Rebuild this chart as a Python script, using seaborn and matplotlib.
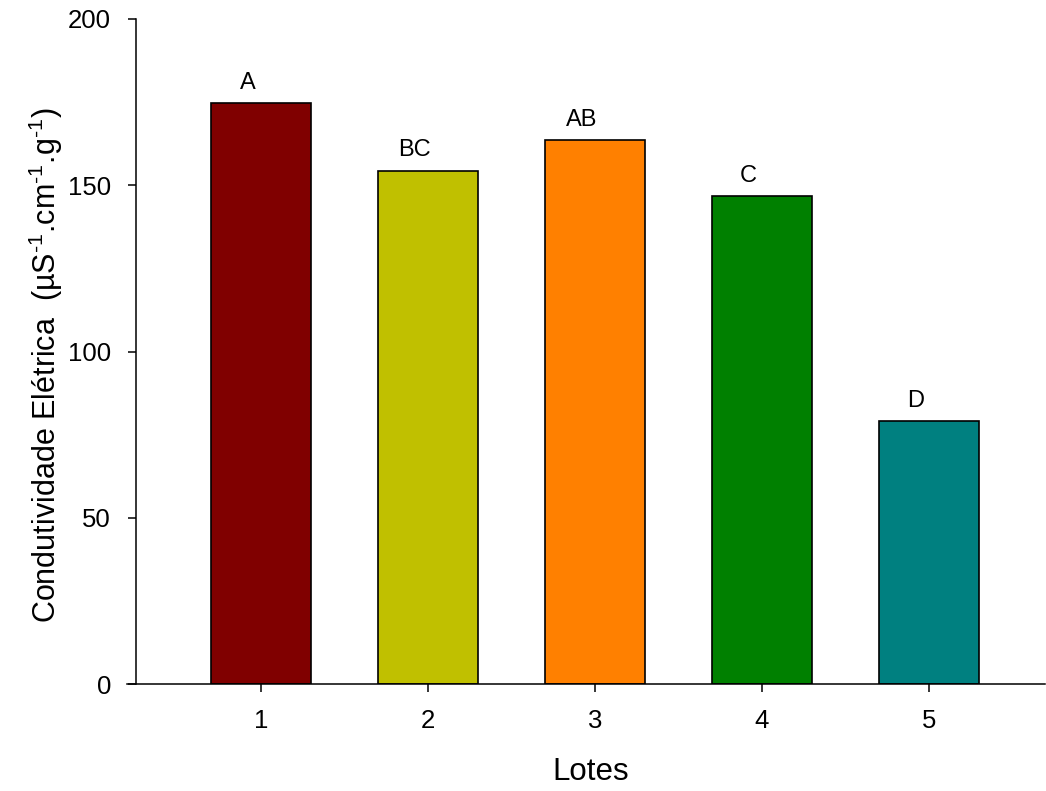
import matplotlib
matplotlib.use("Agg")
import matplotlib.pyplot as plt
import seaborn as sns
import pandas as pd

lotes = ["1", "2", "3", "4", "5"]
condutividade = [174.7, 154.4, 163.6, 146.8, 79.1]
letras = ["A", "BC", "AB", "C", "D"]
cores = ["#800000", "#C0C000", "#FF8000", "#008000", "#008080"]

sns.set_style("white")
plt.rcParams["font.family"] = ["Liberation Sans", "DejaVu Sans"]
plt.rcParams["mathtext.fontset"] = "custom"
plt.rcParams["mathtext.rm"] = "Liberation Sans"
plt.rcParams["mathtext.it"] = "Liberation Sans"
plt.rcParams["mathtext.bf"] = "Liberation Sans:bold"
for k in ["text.color", "axes.labelcolor", "xtick.color", "ytick.color", "axes.edgecolor"]:
    plt.rcParams[k] = "black"

df = pd.DataFrame({"Lotes": lotes, "Valor": condutividade})

fig = plt.figure(figsize=(10.46, 7.91), dpi=100)
ax = fig.add_axes([136 / 1046, 1 - 684 / 791, (1045 - 136) / 1046, (684 - 19) / 791])

sns.barplot(data=df, x="Lotes", y="Valor", hue="Lotes", palette=cores,
            width=0.6, edgecolor="black", linewidth=1.2, legend=False, ax=ax, saturation=1)

for i, (v, l) in enumerate(zip(condutividade, letras)):
    ax.text(i - 0.08, v + 2.8, l, ha="center", va="bottom", fontsize=17)

ax.set_xlim(-0.749, 4.695)
ax.set_ylim(0, 200)
ax.set_yticks([0, 50, 100, 150, 200])
ax.set_xlabel("Lotes", fontsize=22.5)
ax.set_ylabel(r"Condutividade Elétrica  (µS$^{\text{-}1}$.cm$^{\text{-}1}$.g$^{\text{-}1}$)",
              fontsize=22)
ax.yaxis.set_label_coords(-0.078, 0.48)
ax.xaxis.set_label_coords(0.5, -0.110)
ax.tick_params(axis="both", direction="out", length=6, width=1.1, labelsize=18.5, color="black",
               left=True, bottom=True)
ax.tick_params(axis="x", pad=12)
ax.tick_params(axis="y", pad=12)
for s in ["top", "right"]:
    ax.spines[s].set_visible(False)
for s in ["left", "bottom"]:
    ax.spines[s].set_color("black")
    ax.spines[s].set_linewidth(1.1)
ax.spines["bottom"].set_bounds(-0.802, 4.695)
ax.spines["bottom"].set_clip_on(False)

fig.savefig("out.png", dpi=100)
